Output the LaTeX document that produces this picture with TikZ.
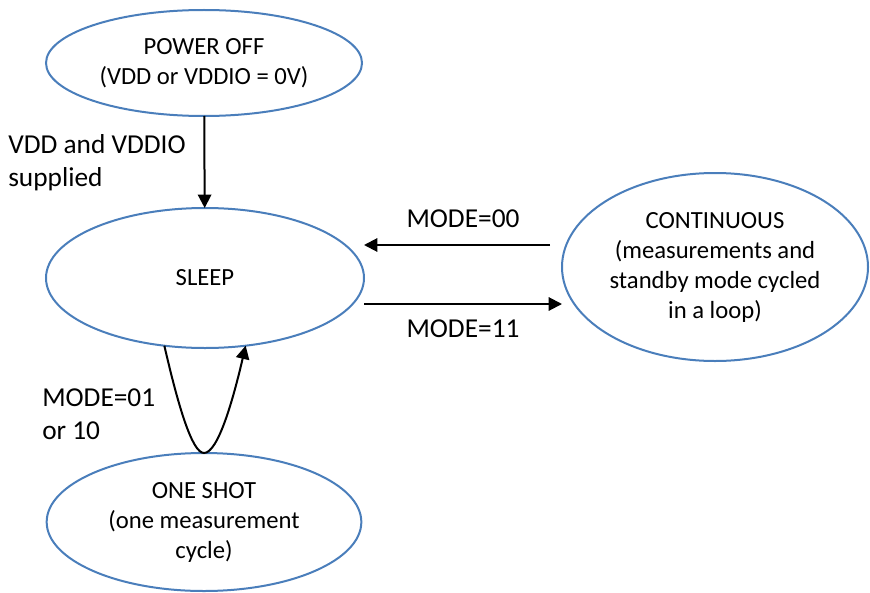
\documentclass[tikz,border=0pt]{standalone}
\usepackage{fontspec}
\setmainfont{Carlito}
\usetikzlibrary{shapes.geometric,arrows.meta}

\definecolor{stateblue}{RGB}{74,126,187}

\tikzset{
    state/.style={ellipse, draw=stateblue, line width=1.5pt, inner sep=0pt, outer sep=0pt,
        align=center, font=\fontsize{18.5}{22.5}\selectfont},
    conn/.style={draw=black, line width=1.5pt, -{Triangle[length=10pt,width=10pt]}},
    lbl/.style={inner sep=0pt, font=\fontsize{20.5}{24.5}\selectfont}
}

\begin{document}
\begin{tikzpicture}[x=0.75pt,y=0.75pt,yscale=-1,xscale=1]
        \useasboundingbox (0,0) rectangle (870,592);
        % States
        \node [state, minimum width=237pt, minimum height=79.5pt] (poweroff) at (204,63) {POWER OFF\\(VDD or VDDIO = 0V)};
        \node [state, minimum width=238.5pt, minimum height=105pt] (sleep) at (205,278) {SLEEP};
        \node [state, minimum width=236pt, minimum height=103.5pt] (oneshot) at (204,522) {ONE SHOT\\(one measurement\\cycle)};
        \node [state, minimum width=229.5pt, minimum height=141pt] (continuous) at (715,267) {CONTINUOUS\\(measurements and\\standby mode cycled\\in a loop)};
        % Text Node
        \node [lbl, anchor=west, align=left] (supplylbl) at (8,163) {VDD and VDDIO\\supplied};
        \node [lbl] (mode00lbl) at (463,219) {MODE=00};
        \node [lbl] (mode11lbl) at (463,329) {MODE=11};
        \node [lbl, anchor=west, align=left] (oneshotlbl) at (42,414) {MODE=01\\or 10};
        % Connection
        \draw [conn] (poweroff) -- (sleep);
        % Connection
        \coordinate (m00) at ([shift={(-12,-22)}]continuous.west);
        \draw [conn] (m00) -- (m00 -| sleep.east);
        % Connection
        \coordinate (m11) at ([shift={(0,26)}]sleep.east);
        \draw [conn] (m11) -- (m11 -| continuous.west);
        % Connection
        \draw [conn] (sleep.239) .. controls (178,405) and (192,453) .. (oneshot.north)
            .. controls (218,453) and (233,400) .. (sleep.301);
    \end{tikzpicture}
\end{document}
